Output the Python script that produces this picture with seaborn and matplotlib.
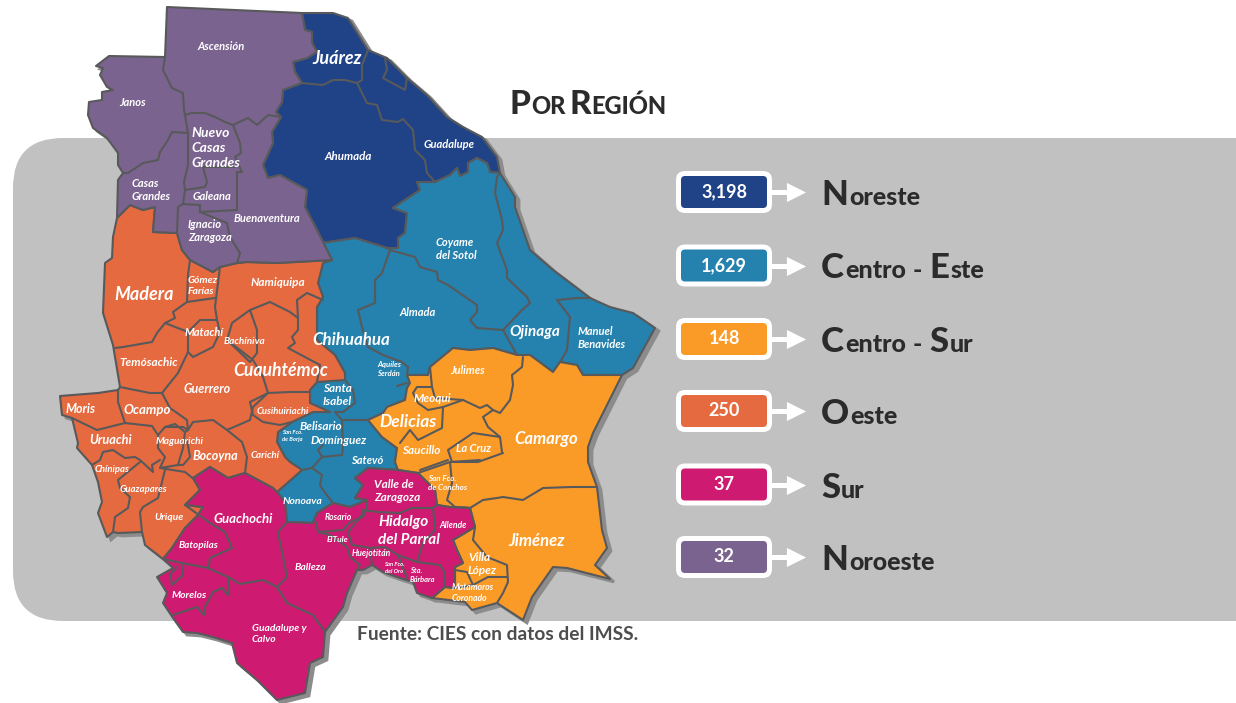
#!/usr/bin/env python3
"""Casos por región en el estado de Chihuahua: mapa municipal y recuadros por región."""

import pandas as pd
import matplotlib
matplotlib.use("Agg")
import matplotlib.pyplot as plt
from matplotlib.patches import FancyBboxPatch
import seaborn as sns

# Valores por región
regiones = ["Noreste", "Centro - Este", "Centro - Sur", "Oeste", "Sur", "Noroeste"]
valores = ["3,198", "1,629", "148", "250", "37", "32"]
colores = ["#204387", "#2581AD", "#FB9B27", "#E56A40", "#CE1A70", "#7B638F"]
filas_y = [192, 265.5, 339, 411, 484.5, 557]

noroeste = [(167,7),(302,13),(305,30),(312,32),(312,43),(317,52),(307,58),(293,62),(295,72),(302,83),
            (283,90),(282,102),(276,112),(281,117),(272,132),(273,143),(263,165),(268,178),(280,175),
            (307,190),(305,207),(317,230),(332,260),(277,263),(247,262),(237,263),(220,267),(213,272),
            (190,260),(182,250),(177,233),(153,232),(155,207),(143,210),(130,205),(117,218),(118,180),
            (123,173),(118,165),(118,153),(107,138),(93,128),(88,115),(89,102),(102,100),(102,92),
            (113,90),(107,87),(100,75),(103,68),(96,66),(109,56),(165,57)]
noreste = [(302,13),(333,13),(348,18),(368,50),(387,58),(407,78),(427,95),(447,117),(463,127),(482,137),
           (497,157),(500,173),(490,172),(487,163),(477,158),(468,163),(468,172),(460,176),(457,168),
           (450,175),(435,182),(417,182),(420,190),(393,208),(407,213),(405,233),(398,238),(398,248),
           (387,248),(355,238),(322,243),(317,230),(305,207),(307,190),(280,175),(268,178),(263,165),
           (273,143),(272,132),(281,117),(276,112),(282,102),(283,90),(302,83),(295,72),(293,62),
           (307,58),(317,52),(312,43),(312,32),(305,30)]
centro_este = [(332,260),(317,230),(322,243),(355,238),(387,248),(398,248),(398,238),(405,233),(407,213),
               (393,208),(420,190),(417,182),(435,182),(450,175),(457,168),(460,176),(468,172),(468,163),
               (477,158),(487,163),(490,172),(500,173),(515,197),(515,207),(530,250),(553,270),(590,298),
               (610,307),(633,313),(655,328),(633,368),(622,375),(583,375),(577,365),(560,362),(553,372),
               (530,355),(517,355),(493,348),(470,350),(453,348),(430,367),(428,375),(407,375),(410,383),
               (407,388),(405,400),(387,407),(383,413),(368,420),(382,437),(397,448),(395,462),(398,470),
               (368,468),(355,478),(363,485),(355,498),(367,500),(350,507),(333,503),(317,513),(313,523),
               (287,522),(285,502),(277,492),(302,470),(290,462),(285,457),(277,442),(278,432),(292,422),
               (313,412),(330,412),(310,403),(310,390),(317,382),(345,380),(345,373),(335,355),(317,340),
               (317,307),(323,297),(318,283),(323,263)]
centro_sur = [(395,462),(397,448),(382,437),(368,420),(383,413),(387,407),(405,400),(407,388),
              (410,383),(407,375),(428,375),(430,367),(453,348),(470,350),(493,348),(517,355),(530,355),
              (553,372),(560,362),(577,365),(583,375),(622,375),(593,433),(588,447),(588,462),(597,487),
              (602,530),(607,548),(595,565),(610,579),(567,568),(553,567),(532,597),(523,620),(497,603),
              (472,610),(465,602),(432,598),(445,587),(455,588),(455,567),(463,563),(457,550),(453,540),
              (475,527),(470,508),(450,507),(437,505),(435,490),(418,473),(398,470)]
oeste = [(130,205),(143,210),(155,207),(153,232),(177,233),(182,250),(190,260),(213,272),(220,267),
         (237,263),(247,262),(277,263),(332,260),(323,263),(318,283),(323,297),(317,307),(317,340),
         (335,355),(345,373),(345,380),(317,382),(310,390),(310,403),(330,412),(313,412),(292,422),
         (278,432),(277,442),(285,457),(290,462),(302,470),(277,492),(273,488),(245,473),(228,478),(210,467),
         (193,478),(200,490),(185,505),(203,507),(198,515),(185,528),(172,548),(163,559),(145,545),(142,532),
         (118,533),(113,532),(107,537),(98,513),(102,502),(98,482),(92,465),(77,448),(78,443),(72,418),
         (62,415),(60,396),(98,393),(118,390),(120,387),(113,345),(103,313),(105,263),(112,258),(113,237),(117,218)]
sur = [(193,478),(210,467),(228,478),(245,473),(273,488),(277,492),(285,502),(287,522),(313,523),(317,513),
       (333,503),(350,507),(367,500),(355,498),(363,485),(355,478),(368,468),(398,470),(418,473),(435,490),
       (437,505),(450,507),(470,508),(475,527),(453,540),(457,550),(463,563),(455,567),(455,588),(445,587),
       (432,598),(417,593),(413,582),(400,578),(383,572),(372,565),(363,570),(357,570),(347,593),(343,607),
       (325,632),(323,657),(310,663),(305,693),(277,700),(257,680),(237,663),(232,643),(213,637),(197,633),
       (183,632),(173,618),(163,603),(167,593),(157,577),(173,568),(163,559),(172,548),(185,528),(198,515),
       (203,507),(185,505),(200,490)]
poligonos = [noreste, centro_este, centro_sur, oeste, sur, noroeste]

# Límites municipales interiores
limites = [
    [(165,57),(163,70),(172,88),(183,93),(184,110),(185,115)],
    [(185,115),(192,113),(205,113),(215,117),(225,122),(233,125),(248,118),(257,125),(268,115),(281,117)],
    [(185,115),(188,133),(188,165),(184,182),(185,190),(183,204),(178,207),(177,233)],
    [(123,173),(128,173),(143,163),(158,160),(160,152),(168,140),(172,132),(188,133)],
    [(233,125),(240,143),(241,153),(235,157),(242,172),(237,172),(237,210),(200,212),(200,205),(183,204)],
    [(185,190),(205,187),(207,182),(203,167),(235,167)],
    [(200,212),(227,223),(230,237),(240,253),(237,263)],
    [(302,83),(323,85),(333,80),(345,80),(357,83),(367,103),(377,105),(382,120),(398,122),(403,119),
     (413,130),(415,150),(425,160),(427,173),(435,182)],
    [(368,50),(362,65),(362,80),(357,83)],
    [(385,58),(387,70),(383,78),(405,90),(407,78)],
    [(390,250),(382,273),(375,280),(375,303),(358,310),(362,327),(368,347),(383,355),(402,362),(408,367),(407,375)],
    [(387,248),(390,250),(415,257),(420,267),(437,272),(438,280),(448,285),(477,305),(477,312),(470,320),
     (477,328),(503,330),(517,355)],
    [(500,173),(497,177),(495,193),(502,220),(503,230),(497,243),(507,270),(507,278),(527,297),(530,303),
     (522,310),(503,330)],
    [(590,298),(577,298),(557,300),(570,317),(567,350),(560,362)],
    [(397,386),(407,383)],
    [(345,380),(353,390),(355,403),(343,412),(335,412),(342,420),(355,420),(368,420)],
    [(342,420),(343,447),(342,455),(322,457),(318,450),(323,445)],
    [(322,457),(312,468),(302,470)],
    [(312,468),(322,475),(320,485),(323,490),(333,503)],
    [(115,348),(123,347),(152,342),(157,333),(165,323),(175,318),(173,312),(187,302),(188,275),(190,260)],
    [(187,302),(215,298)],
    [(220,267),(215,307),(217,320),(200,320),(188,332),(188,352),(193,357),(213,347),(220,332),(217,320)],
    [(165,323),(188,332)],
    [(188,352),(178,373),(162,393),(150,393),(120,387)],
    [(162,393),(170,408),(187,420),(188,430),(193,422),(213,420),(227,430),(250,420),(253,407),(268,393),
     (263,377),(253,360),(227,340)],
    [(250,310),(232,323),(230,330),(227,340),(250,362),(257,353),(257,330),(250,310)],
    [(250,310),(270,302),(290,312),(298,318),(297,300),(307,293),(323,300)],
    [(298,318),(298,330),(292,337),(295,343),(288,348),(320,365),(317,382)],
    [(250,402),(268,393),(290,392),(310,392)],
    [(250,402),(253,415),(263,422),(280,425),(292,422)],
    [(118,390),(118,402),(125,423),(152,426),(158,435)],
    [(72,418),(97,430),(125,423)],
    [(158,435),(165,427),(175,424),(185,432),(183,448),(178,465),(160,468),(165,457),(158,448),(158,435)],
    [(165,427),(183,427),(188,430),(185,432)],
    [(227,430),(242,442),(247,457),(245,473)],
    [(187,440),(190,457),(183,465),(178,465)],
    [(160,460),(152,465),(153,472),(140,460),(135,457),(125,458),(113,450),(103,452),(100,460),(92,465)],
    [(140,462),(118,480),(120,488),(130,497),(128,508),(115,517),(113,532)],
    [(165,470),(158,498),(143,507),(140,512),(142,532)],
    [(160,468),(185,472),(195,480)],
    [(185,505),(210,523),(225,532),(232,548),(210,558),(208,568)],
    [(163,559),(182,563),(208,568),(230,578),(240,584),(263,580),(277,587),(287,603),(313,615),(325,632)],
    [(228,578),(228,595),(222,588),(213,592),(205,607),(204,615),(197,607),(173,615)],
    [(182,563),(183,575),(172,585),(170,575),(177,567)],
    [(287,522),(278,532),(283,557),(287,577),(277,587)],
    [(316,522),(318,532),(343,530),(350,522),(363,517),(367,507),(367,500)],
    [(318,532),(330,535),(347,547),(350,557),(360,565),(357,570)],
    [(363,517),(362,510),(378,512),(400,513),(412,508),(433,508),(437,505)],
    [(362,515),(348,532),(352,545),(370,548),(385,547),(398,555),(417,562),(423,543),(435,530),(433,508)],
    [(370,548),(372,565)],
    [(398,555),(407,578)],
    [(417,562),(440,565),(445,573),(445,587)],
    [(418,473),(450,462),(452,483),(447,500),(455,507),(470,508)],
    [(470,508),(483,500),(497,498),(503,497),(523,500),(543,488),(572,487),(597,487)],
    [(450,462),(480,460)],
    [(475,527),(473,540),(487,557),(507,565),(508,582),(503,593),(497,603)],
    [(455,570),(467,572),(473,585),(488,577),(507,577)],
    [(455,588),(473,585)],
    [(430,367),(432,387),(417,387),(413,393),(418,403),(428,410),(443,407),(463,400),(480,408),(487,405),
     (493,410),(500,413),(510,400),(513,385),(512,375),(522,367),(523,357)],
    [(432,387),(435,398),(463,400)],
    [(443,407),(442,428),(418,440),(410,430),(400,443)],
    [(493,410),(483,417),(488,427),(500,437),(502,452)],
    [(500,437),(473,433),(448,450),(452,462),(478,462),(503,453)],
    [(448,460),(420,470)],
]

# Nombres de municipios: (texto, x del centro, y, tamaño)
nombres_centro = [
    ("Ascensión",221,46,8), ("Janos",133,103,8), ("Juárez",337,59,13), ("Ahumada",348,156,8.3),
    ("Guadalupe",449,144,8), ("Galeana",212,197,8), ("Buenaventura",267,219,8),
    ("Almada",418,312,8), ("Ojinaga",535,332,11), ("Madera",144,295,13), ("Namiquipa",278,283,8.5),
    ("Matachí",204,332,8), ("Bachíniva",244,341,7.2), ("Chihuahua",351,340,12.2),
    ("Temósachic",149,362,8.5), ("Guerrero",207,389,9), ("Cuauhtémoc",281,370,12.7),
    ("Julimes",468,371,8), ("Meoqui",432,398,8.5), ("Moris",81,409,9), ("Ocampo",147,410,9.5),
    ("Cusihuiriachi",283,411,6.8), ("Delicias",408,422,12.5), ("Camargo",546,439,12),
    ("Uruachi",111,440,9.2), ("Maguarichi",180,441,7.2), ("San Fco.\nde Borja",292,436,4.2),
    ("Belisario",321,427,8.5), ("Domínguez",339,440,8.5), ("Bocoyna",215,456,9), ("Carichí",265,456,7),
    ("Saucillo",421,451,8.5), ("La Cruz",474,449,8), ("Satevó",367,460,8), ("Chínipas",112,469,6.8),
    ("Guazapares",143,489,6.8), ("Nonoava",302,501,7.5), ("Urique",169,517,7.5), ("Rosario",338,518,6.2),
    ("Guachochi",243,519,9.5), ("Allende",453,525,6.2), ("Jiménez",537,541,12), ("ElTule",338,540,6),
    ("Batopilas",198,546,7.2), ("Huejotitán",371,554,6.2), ("San Fco.\ndel Oro",394,568,4.2),
    ("Balleza",310,567,7.5), ("Morelos",189,596,7.5),
]
# Los de varias líneas alineados a la izquierda: (texto, x izquierda, y, tamaño)
nombres_izq = [
    ("Nuevo\nCasas\nGrandes",191,148,10), ("Casas\nGrandes",132,190,8), ("Ignacio\nZaragoza",188,231,8),
    ("Coyame\ndel Sotol",436,249,8), ("Manuel\nBenavides",578,338,8), ("Gómez\nFarías",188,286,7.5),
    ("Aquiles\nSerdán",377,369,5.6), ("Santa\nIsabel",323,395,8.5), ("Valle de\nZaragoza",374,491,8.5),
    ("San Fco.\nde Conchos",428,483,5.8), ("Hidalgo\ndel Parral",378,531,11), ("Villa\nLópez",468,564,8.5),
    ("Sta.\nBárbara",410,575,5.4), ("Matamoros\nCoronado",452,593,6.2), ("Guadalupe y\nCalvo",252,634,7.4),
]

sns.set_theme(style="white", rc={"axes.edgecolor": "none"})
plt.rcParams["font.family"] = ["Lato", "DejaVu Sans"]

fig = plt.figure(figsize=(12.36, 7.03), dpi=100)
ax = fig.add_axes([0, 0, 1, 1])
ax.set_xlim(0, 1236)
ax.set_ylim(703, 0)
ax.axis("off")

# Banda gris de fondo
ax.add_patch(FancyBboxPatch((63, 188), 1300, 383, boxstyle="round,pad=50,rounding_size=50",
                            fc="#C1C1C1", ec="none", zorder=0))

# Sombra del estado y relleno por región
for pts in poligonos:
    ax.fill([p[0] + 4 for p in pts], [p[1] + 3 for p in pts], color="#8C8C8C", ec="#8C8C8C", lw=2, zorder=1)
for pts, c in zip(poligonos, colores):
    ax.fill([p[0] for p in pts], [p[1] for p in pts], fc=c, ec="#58595B", lw=1.5, joinstyle="round", zorder=2)

# Límites municipales
tramos = pd.DataFrame(
    [(i, x, y) for i, tramo in enumerate(limites) for x, y in tramo],
    columns=["tramo", "x", "y"],
)
sns.lineplot(data=tramos, x="x", y="y", units="tramo", estimator=None, sort=False,
             color="#58595B", lw=1.5, legend=False, ax=ax, zorder=3)
ax.set_xlim(0, 1236)
ax.set_ylim(703, 0)

for lista, ha in [(nombres_centro, "center"), (nombres_izq, "left")]:
    for nombre, x, y, size in lista:
        ax.text(x, y, nombre, color="white", fontsize=size, fontweight="bold", fontstyle="italic",
                ha=ha, va="center", multialignment=ha, linespacing=1.3, zorder=4)


def texto_versal(x, y, partes, color="#2B2B2B"):
    """Escribe trozos seguidos sobre la misma línea base"""
    for trozo, size in partes:
        t = ax.text(x, y, trozo, fontsize=size, fontweight="black", color=color,
                    va="baseline", ha="left", zorder=5)
        caja = t.get_window_extent(fig.canvas.get_renderer())
        x += caja.width + 1


# Título en versalitas
texto_versal(509, 114, [("P", 24), ("OR", 17)])
texto_versal(569, 114, [("R", 24), ("EGIÓN", 17)])

# Recuadros, flechas y nombres de región
tabla = pd.DataFrame({"region": regiones, "valor": valores, "y": filas_y})
tabla["punta"] = 796
for _, fila in tabla.iterrows():
    c = colores[regiones.index(fila["region"])]
    y = fila["y"]
    ax.add_patch(FancyBboxPatch((681, y - 16), 86, 32, boxstyle="round,pad=5,rounding_size=9",
                                fc="white", ec="none", zorder=3))
    ax.add_patch(FancyBboxPatch((681, y - 16), 86, 32, boxstyle="round,pad=0,rounding_size=4",
                                fc=c, ec="none", zorder=3))
    ax.plot([770, 792], [y, y], color="white", lw=3.6, solid_capstyle="butt", zorder=3)
    ax.text(724, y, fila["valor"], color="white", fontsize=13, fontweight="bold",
            ha="center", va="center", zorder=5)

    partes = []
    for palabra in fila["region"].split(" "):
        if palabra == "-":
            partes.append((" - ", 18))
        else:
            partes.append((palabra[0], 25))
            partes.append((palabra[1:], 18))
    texto_versal(821, y + 13, partes)

sns.scatterplot(data=tabla, x="punta", y="y", marker=">", s=190, color="white", edgecolor="white",
                linewidth=0, legend=False, ax=ax, zorder=4)
ax.set_xlim(0, 1236)
ax.set_ylim(703, 0)
ax.axis("off")

ax.text(357, 634, "Fuente: CIES con datos del IMSS.", color="#4D4D4D", fontsize=13.8, fontweight="bold",
        ha="left", va="center", zorder=5)

fig.savefig("out.png", dpi=100)
